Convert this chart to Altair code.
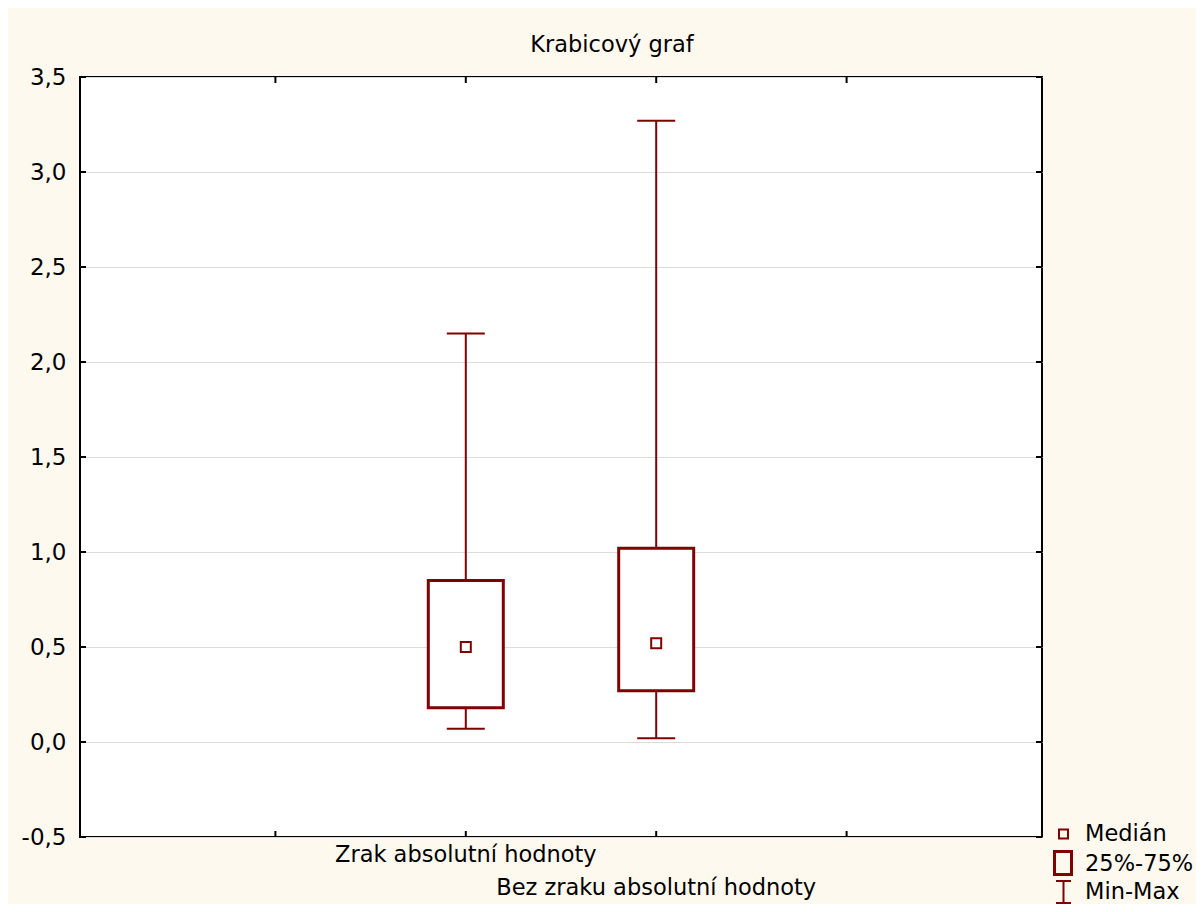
import altair as alt
import pandas as pd

categories = ["Zrak absolutní hodnoty", "Bez zraku absolutní hodnoty"]
positions = [2, 3]
mins = [0.07, 0.02]
q1s = [0.18, 0.27]
medians = [0.50, 0.52]
q3s = [0.85, 1.02]
maxs = [2.15, 3.27]

y_ticks = [-0.5, 0.0, 0.5, 1.0, 1.5, 2.0, 2.5, 3.0, 3.5]
x_ticks = [1, 2, 3, 4]
legend_labels = ["Medián", "25%-75%", "Min-Max"]

RED = "#800000"
FONT = "DejaVu Sans"
W, H = 962, 760

df = pd.DataFrame({
    "cat": categories, "pos": positions, "min": mins, "q1": q1s,
    "median": medians, "q3": q3s, "max": maxs,
})
leg_df = pd.DataFrame({"item": legend_labels, "idx": [0, 1, 2]})

xs = alt.Scale(domain=[0, 5], nice=False, zero=False)
ys = alt.Scale(domain=[-0.5, 3.5], nice=False, zero=False)

x_enc = alt.X("pos:Q", scale=xs, axis=None)

yaxis = alt.Axis(
    values=y_ticks,
    labelExpr="replace(replace(format(datum.value, '.1f'), '.', ','), '\u2212', '-')",
    labelFont=FONT, labelFontSize=23, labelColor="black",
    labelPadding=14, ticks=False, domain=False,
    grid=True, gridColor="#DCDCDC", gridWidth=1, title=None,
)


def Y(field):
    return alt.Y(field, scale=ys, axis=yaxis)


base = alt.Chart(df)

grid = alt.Chart(pd.DataFrame({"v": y_ticks})).mark_rule(opacity=0).encode(
    y=Y("v:Q")
)

whisker = base.mark_rule(color=RED, strokeWidth=2, opacity=1).encode(
    x=x_enc, y=Y("min:Q"), y2="max:Q"
)
caps_lo = base.mark_tick(color=RED, orient="horizontal", size=38, thickness=2, opacity=1).encode(
    x=x_enc, y=Y("min:Q")
)
caps_hi = base.mark_tick(color=RED, orient="horizontal", size=38, thickness=2, opacity=1).encode(
    x=x_enc, y=Y("max:Q")
)
box = base.mark_bar(orient="vertical", size=75, fill="white", stroke=RED, strokeWidth=3, opacity=1).encode(
    x=x_enc, y=Y("q1:Q"), y2="q3:Q"
)
med = base.mark_square(size=100, filled=False, color=RED, strokeWidth=2, opacity=1).encode(
    x=x_enc, y=Y("median:Q")
)

label1 = base.transform_filter("datum.pos == 2").mark_text(
    font=FONT, fontSize=22.5, color="black", align="center"
).encode(x=x_enc, y=alt.value(778), text="cat:N")
label2 = base.transform_filter("datum.pos == 3").mark_text(
    font=FONT, fontSize=22.5, color="black", align="center"
).encode(x=x_enc, y=alt.value(811), text="cat:N")

ytick_df = pd.DataFrame({"v": y_ticks})
ltick = alt.Chart(ytick_df).mark_rule(color="black", strokeWidth=2).encode(
    y=Y("v:Q"), x=alt.value(0), x2=alt.value(6)
)
rtick = alt.Chart(ytick_df).mark_rule(color="black", strokeWidth=2).encode(
    y=Y("v:Q"), x=alt.value(W - 6), x2=alt.value(W)
)
xtick_df = pd.DataFrame({"t": x_ticks})
btick = alt.Chart(xtick_df).mark_rule(color="black", strokeWidth=2).encode(
    x=alt.X("t:Q", scale=xs, axis=None), y=alt.value(H), y2=alt.value(H - 6)
)
ttick = alt.Chart(xtick_df).mark_rule(color="black", strokeWidth=2).encode(
    x=alt.X("t:Q", scale=xs, axis=None), y=alt.value(0), y2=alt.value(6)
)

# legend (manual)
lg = alt.Chart(leg_df)
leg_rows_y = [757, 787, 815]
leg_texts = [
    lg.transform_filter(f"datum.idx == {i}").mark_text(
        font=FONT, fontSize=22.5, color="black", align="left", baseline="middle"
    ).encode(x=alt.value(1005), y=alt.value(yy), text="item:N")
    for i, yy in enumerate(leg_rows_y)
]
leg_med = lg.transform_filter("datum.idx == 0").mark_square(
    size=81, filled=False, color=RED, strokeWidth=2, opacity=1
).encode(x=alt.value(983.5), y=alt.value(757))
leg_box = lg.transform_filter("datum.idx == 1").mark_rect(
    fill="transparent", stroke=RED, strokeWidth=3
).encode(x=alt.value(974.5), x2=alt.value(991.5), y=alt.value(774.5), y2=alt.value(797.5))
leg_stem = lg.transform_filter("datum.idx == 2").mark_rule(color=RED, strokeWidth=2).encode(
    x=alt.value(983.5), y=alt.value(804), y2=alt.value(826)
)
leg_cap1 = lg.transform_filter("datum.idx == 2").mark_rule(color=RED, strokeWidth=2).encode(
    x=alt.value(976), x2=alt.value(991), y=alt.value(804)
)
leg_cap2 = lg.transform_filter("datum.idx == 2").mark_rule(color=RED, strokeWidth=2).encode(
    x=alt.value(976), x2=alt.value(991), y=alt.value(826)
)

chart = alt.layer(
    grid, whisker, caps_lo, caps_hi, box, med,
    ltick, rtick, btick, ttick, label1, label2,
    *leg_texts, leg_med, leg_box, leg_stem, leg_cap1, leg_cap2,
).properties(
    width=W, height=H,
    title=alt.TitleParams(
        "Krabicový graf", font=FONT, fontSize=22.5, fontWeight="normal",
        color="black", anchor="middle", offset=10, dx=51,
    ),
    autosize=alt.AutoSizeParams(type="none"),
    padding={"left": 72, "top": 69, "right": 154, "bottom": 67},
).configure(
    background="#FEF9EF",
).configure_view(
    stroke="black", strokeWidth=2, fill="white",
)

chart.save("out.html", embed_options={"renderer": "svg", "actions": False})
